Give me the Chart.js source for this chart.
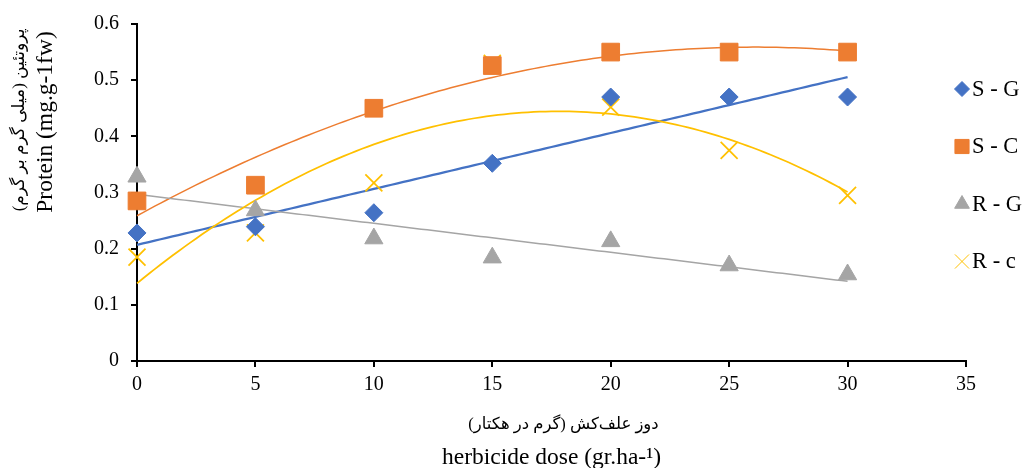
<!DOCTYPE html>
<html>
<head>
<meta charset="utf-8">
<script src="https://cdn.jsdelivr.net/npm/chart.js@4"></script>
<style>
  html, body { margin: 0; padding: 0; background: #fff; }
  #wrap { width: 1025px; height: 468px; }
</style>
</head>
<body>
<div id="wrap"><canvas id="chart"></canvas></div>
<script>
// data
const doses = [0, 5, 10, 15, 20, 25, 30];
const sG = [0.228, 0.239, 0.264, 0.352, 0.470, 0.470, 0.470];
const sC = [0.285, 0.313, 0.450, 0.526, 0.550, 0.550, 0.550];
const rG = [0.328, 0.268, 0.218, 0.184, 0.213, 0.170, 0.154];
const rC = [0.185, 0.228, 0.317, 0.530, 0.452, 0.375, 0.295];
const seriesNames = ['S - G', 'S - C', 'R - G', 'R - c'];
const trendOrder = [1, 2, 1, 2];   // linear / 2nd order polynomial, like excel
const xTicks = [0, 5, 10, 15, 20, 25, 30, 35];
const yTicks = [0, 0.1, 0.2, 0.3, 0.4, 0.5, 0.6];

const colors = ['#4472C4', '#ED7D31', '#A5A5A5', '#FFC000'];
const styles = ['rectRot', 'rect', 'triangle', 'crossRot'];
const radii = [9, 12.5, 10.5, 12];
const trendWidths = [2.25, 1.5, 1.5, 1.75];
const FONT = '"Liberation Serif", "Times New Roman", "DejaVu Sans", serif';

// least squares polynomial fit
function polyfit(xs, ys, deg) {
  const n = deg + 1;
  let A = [];
  for (let i = 0; i < n; i++) {
    A.push([]);
    for (let j = 0; j < n; j++) {
      let s = 0;
      xs.forEach(x => { s += Math.pow(x, i + j); });
      A[i].push(s);
    }
    let b = 0;
    xs.forEach((x, k) => { b += ys[k] * Math.pow(x, i); });
    A[i].push(b);
  }
  for (let c = 0; c < n; c++) {
    let p = c;
    for (let r = c + 1; r < n; r++) if (Math.abs(A[r][c]) > Math.abs(A[p][c])) p = r;
    [A[c], A[p]] = [A[p], A[c]];
    for (let r = 0; r < n; r++) {
      if (r === c) continue;
      const f = A[r][c] / A[c][c];
      for (let k = c; k <= n; k++) A[r][k] -= f * A[c][k];
    }
  }
  return A.map((row, i) => row[n] / row[i]);
}

const allSeries = [sG, sC, rG, rC];

const trendPlugin = {
  id: 'trend',
  beforeDatasetsDraw(chart) {
    const ctx = chart.ctx;
    const xs = chart.scales.x, ys = chart.scales.y;
    allSeries.forEach((vals, i) => {
      const coef = polyfit(doses, vals, trendOrder[i]);
      ctx.save();
      ctx.beginPath();
      ctx.strokeStyle = colors[i];
      ctx.lineWidth = trendWidths[i];
      const x0 = doses[0], x1 = doses[doses.length - 1];
      for (let x = x0; x <= x1 + 1e-9; x += 0.25) {
        let y = 0;
        coef.forEach((c, k) => { y += c * Math.pow(x, k); });
        const px = xs.getPixelForValue(x), py = ys.getPixelForValue(y);
        if (x === x0) ctx.moveTo(px, py); else ctx.lineTo(px, py);
      }
      ctx.stroke();
      ctx.restore();
    });
  }
};

const decoPlugin = {
  id: 'deco',
  afterDraw(chart) {
    const ctx = chart.ctx;
    const area = chart.chartArea;
    ctx.save();
    ctx.fillStyle = '#000';
    ctx.textAlign = 'center';
    ctx.textBaseline = 'middle';
    // x title
    const cx = (area.left + area.right) / 2;
    ctx.font = '16.5px ' + FONT;
    ctx.fillText('دوز علف‌کش (گرم در هکتار)', cx + 12, area.bottom + 64);
    ctx.font = '23.5px ' + FONT;
    ctx.fillText('herbicide dose (gr.ha-¹)', cx, area.bottom + 97);
    // y title
    ctx.save();
    ctx.translate(20, 120);
    ctx.rotate(-Math.PI / 2);
    ctx.font = '17px ' + FONT;
    ctx.fillText('پروتئین (میلی گرم بر گرم)', 0, 0);
    ctx.restore();
    ctx.save();
    ctx.translate(46, 122);
    ctx.rotate(-Math.PI / 2);
    ctx.font = '23.5px ' + FONT;
    ctx.fillText('Protein (mg.g-1fw)', 0, 0);
    ctx.restore();
    // legend
    ctx.textAlign = 'left';
    ctx.font = '22.5px ' + FONT;
    const legendRadii = [7.5, 10, 8.5, 10];
    seriesNames.forEach((name, i) => {
      const y = 89 + i * 57.5;
      ctx.fillStyle = colors[i];
      ctx.strokeStyle = colors[i];
      Chart.helpers.drawPoint(ctx, {
        pointStyle: styles[i], radius: legendRadii[i], rotation: 0,
        borderWidth: i === 3 ? 1.75 : 1
      }, 962, y);
      ctx.fillStyle = '#000';
      ctx.fillText(name, 972, y + 1);
    });
    ctx.restore();
  }
};

const datasets = allSeries.map((vals, i) => ({
  label: seriesNames[i],
  data: doses.map((d, k) => ({ x: d, y: vals[k] })),
  showLine: false,
  clip: false,
  pointStyle: styles[i],
  pointRadius: radii[i],
  pointBackgroundColor: colors[i],
  pointBorderColor: colors[i],
  pointBorderWidth: i === 3 ? 1.75 : 1
}));

new Chart(document.getElementById('chart'), {
  type: 'scatter',
  data: { datasets: datasets },
  options: {
    responsive: true,
    maintainAspectRatio: false,
    animation: false,
    layout: { padding: { left: 0, right: 59, top: 24, bottom: 0 } },
    plugins: { legend: { display: false }, tooltip: { enabled: false } },
    scales: {
      x: {
        type: 'linear', min: 0, max: 35,
        afterBuildTicks: s => { s.ticks = xTicks.map(v => ({ value: v })); },
        afterFit: s => { s.height = 107; },
        ticks: { color: '#000', font: { family: FONT, size: 20 }, padding: 6 },
        grid: { drawOnChartArea: false, color: '#000', lineWidth: 2, tickLength: 6 },
        border: { color: '#000', width: 2 }
      },
      y: {
        min: 0, max: 0.6,
        afterBuildTicks: s => { s.ticks = yTicks.map(v => ({ value: v })); },
        afterFit: s => { s.width = 137; },
        ticks: {
          color: '#000', font: { family: FONT, size: 20 }, padding: 12,
          callback: v => v === 0 ? '0' : v.toFixed(1)
        },
        grid: { drawOnChartArea: false, color: '#000', lineWidth: 2, tickLength: 6 },
        border: { color: '#000', width: 2 }
      }
    }
  },
  plugins: [trendPlugin, decoPlugin]
});
</script>
</body>
</html>
